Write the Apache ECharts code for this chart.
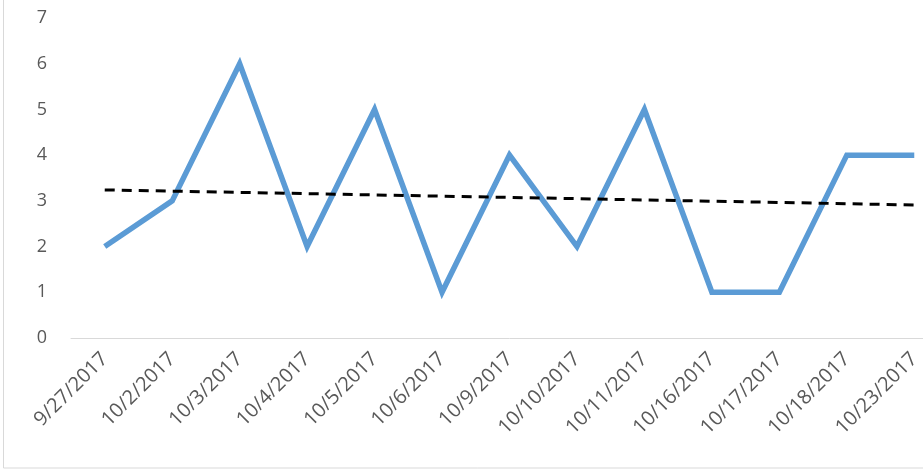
<!DOCTYPE html>
<html>
<head>
<meta charset="utf-8">
<script src="https://cdn.jsdelivr.net/npm/echarts@6/dist/echarts.min.js"></script>
<style>
  html, body { margin: 0; padding: 0; background: #fff; overflow: hidden; }
  /* the original picture is cut off on the right, so the chart is a bit wider than the window */
  #main { width: 950px; height: 472px; }
</style>
</head>
<body>
<div id="main"></div>
<script>
// data
var dates = ['9/27/2017', '10/2/2017', '10/3/2017', '10/4/2017', '10/5/2017', '10/6/2017', '10/9/2017',
             '10/10/2017', '10/11/2017', '10/16/2017', '10/17/2017', '10/18/2017', '10/23/2017'];
var counts = [2, 3, 6, 2, 5, 1, 4, 2, 5, 1, 1, 4, 4];
// linear trend line, start and end values
var trendStart = 3.24;
var trendEnd = 2.91;
var yTicks = [0, 1, 2, 3, 4, 5, 6, 7];

var myChart = echarts.init(document.getElementById('main'));
var option = {
    animation: false,
    backgroundColor: '#fff',
    grid: { left: 71, right: 2, top: 18, bottom: 134 },
    graphic: [{
        type: 'rect',
        shape: { x: 3.5, y: -10, width: 1000, height: 478 },
        style: { fill: 'none', stroke: '#d9d9d9', lineWidth: 1 },
        silent: true
    }],
    xAxis: {
        type: 'category',
        data: dates,
        axisLine: { lineStyle: { color: '#d9d9d9', width: 1 } },
        axisTick: { show: false },
        axisLabel: {
            interval: 0,
            rotate: 45,
            color: '#595959',
            fontSize: 20,
            fontFamily: 'Open Sans',
            margin: 18
        }
    },
    yAxis: {
        type: 'value',
        min: yTicks[0],
        max: yTicks[yTicks.length - 1],
        interval: 1,
        splitLine: { show: false },
        axisLine: { show: false },
        axisTick: { show: false },
        axisLabel: {
            color: '#595959',
            fontSize: 18,
            fontFamily: 'Open Sans',
            margin: 24
        }
    },
    series: [
        {
            type: 'line',
            data: counts,
            symbol: 'none',
            lineStyle: { color: '#5b9bd5', width: 5.5, join: 'miter' },
            markLine: {
                silent: true,
                symbol: 'none',
                label: { show: false },
                lineStyle: { color: '#000', width: 3, type: [10, 7] },
                data: [[
                    { coord: [0, trendStart] },
                    { coord: [dates.length - 1, trendEnd] }
                ]]
            }
        }
    ]
};
myChart.setOption(option);
</script>
</body>
</html>
